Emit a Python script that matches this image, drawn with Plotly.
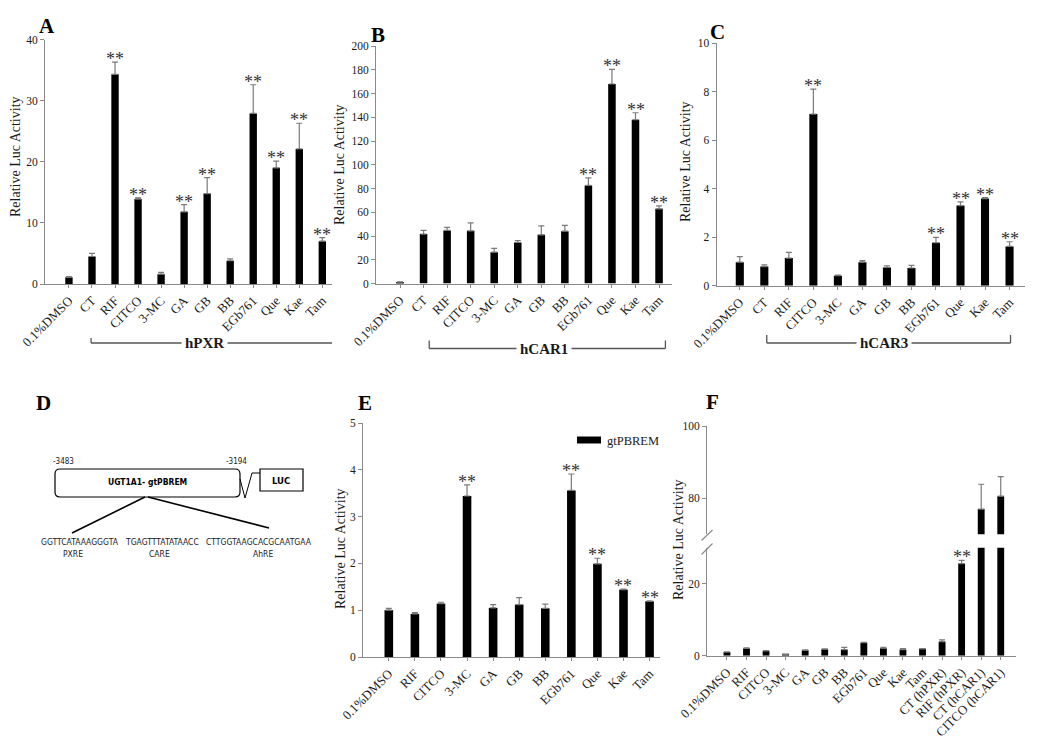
import plotly.graph_objects as go

# ---------------- data ----------------
cats_abc = ["0.1%DMSO", "CT", "RIF", "CITCO", "3-MC", "GA", "GB", "BB", "EGb761", "Que", "Kae", "Tam"]

a_vals = [1.1, 4.5, 34.3, 13.9, 1.6, 11.8, 14.8, 3.8, 27.9, 19.0, 22.1, 7.0]
a_err = [0.1, 0.5, 2.0, 0.2, 0.3, 1.2, 2.6, 0.3, 4.7, 1.1, 4.2, 0.6]
a_sig = ["RIF", "CITCO", "GA", "GB", "EGb761", "Que", "Kae", "Tam"]

b_vals = [1.1, 41.6, 44.7, 44.4, 26.4, 34.6, 41.0, 44.1, 82.6, 168.0, 137.9, 62.9]
b_err = [0.3, 3.1, 2.5, 6.7, 3.1, 1.6, 7.6, 4.8, 6.4, 12.3, 5.9, 2.5]
b_sig = ["EGb761", "Que", "Kae", "Tam"]

c_vals = [0.97, 0.79, 1.14, 7.07, 0.41, 0.97, 0.75, 0.73, 1.77, 3.30, 3.59, 1.62]
c_err = [0.23, 0.07, 0.23, 1.03, 0.03, 0.06, 0.07, 0.11, 0.22, 0.15, 0.04, 0.19]
c_sig = ["CITCO", "EGb761", "Que", "Kae", "Tam"]

cats_e = ["0.1%DMSO", "RIF", "CITCO", "3-MC", "GA", "GB", "BB", "EGb761", "Que", "Kae", "Tam"]
e_vals = [1.0, 0.92, 1.14, 3.44, 1.05, 1.12, 1.04, 3.56, 1.99, 1.44, 1.19]
e_err = [0.04, 0.03, 0.03, 0.24, 0.07, 0.15, 0.09, 0.35, 0.12, 0.01, 0.01]
e_sig = ["3-MC", "EGb761", "Que", "Kae", "Tam"]

cats_f = ["0.1%DMSO", "RIF", "CITCO", "3-MC", "GA", "GB", "BB", "EGb761", "Que", "Kae", "Tam",
          "CT (hPXR)", "RIF (hPXR)", "CT (hCAR1)", "CITCO (hCAR1)"]
f_vals = [1.0, 2.0, 1.3, 0.3, 1.5, 1.8, 1.7, 3.6, 2.1, 1.7, 1.9, 3.9, 25.6, 77.0, 80.6]
f_err = [0.05, 0.2, 0.1, 0.05, 0.1, 0.1, 0.6, 0.1, 0.2, 0.3, 0.1, 0.5, 0.9, 6.9, 5.4]
f_sig = ["RIF (hPXR)"]

# ---------------- helpers ----------------
W, H = 1050, 753
def fx(p): return p / W
def fy(p): return 1 - p / H

SERIF = "Liberation Serif, Times New Roman, serif"
NARROW = "DejaVu Sans Condensed, Liberation Sans, Arial, sans-serif"
AXC = "#8a8a8a"
TXT = "#1a1a1a"

fig = go.Figure()

def add_bars(cats, vals, errs, xa, ya, width):
    fig.add_trace(go.Bar(
        x=cats, y=vals, xaxis=xa, yaxis=ya, width=width,
        marker=dict(color="black", line=dict(width=0)),
        error_y=dict(type="data", array=errs, arrayminus=[0] * len(errs), symmetric=False,
                     color="#7a7a7a", thickness=1.2, width=3),
        showlegend=False, hoverinfo="skip"))

def add_stars(cats, vals, errs, sig, xa, ya):
    for c in sig:
        i = cats.index(c)
        fig.add_annotation(x=c, y=vals[i] + errs[i], xref=xa, yref=ya, text="**",
                           showarrow=False, yanchor="bottom", yshift=-9,
                           font=dict(family=SERIF, size=18, color="#333"))

add_bars(cats_abc, a_vals, a_err, "x", "y", 0.32)
add_bars(cats_abc, b_vals, b_err, "x2", "y2", 0.32)
add_bars(cats_abc, c_vals, c_err, "x3", "y3", 0.33)
add_bars(cats_e, e_vals, e_err, "x4", "y4", 0.33)
add_bars(cats_f, f_vals, f_err, "x5", "y5", 0.35)
add_bars(cats_f, f_vals, f_err, "x5", "y6", 0.35)

add_stars(cats_abc, a_vals, a_err, a_sig, "x", "y")
add_stars(cats_abc, b_vals, b_err, b_sig, "x2", "y2")
add_stars(cats_abc, c_vals, c_err, c_sig, "x3", "y3")
add_stars(cats_e, e_vals, e_err, e_sig, "x4", "y4")
add_stars(cats_f, f_vals, f_err, f_sig, "x5", "y5")

def xax(dom, rng, anchor):
    return dict(domain=[fx(dom[0]), fx(dom[1])], range=rng, anchor=anchor, automargin=False,
                showline=True, linecolor=AXC, linewidth=1, showgrid=False, zeroline=False,
                ticks="outside", ticklen=3, tickcolor=AXC, tickangle=-45,
                tickfont=dict(family=SERIF, size=13, color=TXT), fixedrange=True)

def yax(dom, rng, dtick, anchor):
    return dict(domain=[fy(dom[1]), fy(dom[0])], range=rng, dtick=dtick, anchor=anchor,
                automargin=False,
                showline=True, linecolor=AXC, linewidth=1, showgrid=False, zeroline=False,
                ticks="outside", ticklen=4, tickcolor=AXC,
                tickfont=dict(family=SERIF, size=11.5, color=TXT), fixedrange=True)

fig.update_layout(
    template="none",
    width=W, height=H, margin=dict(l=0, r=0, t=0, b=0, autoexpand=False),
    paper_bgcolor="white", plot_bgcolor="white", barmode="overlay", showlegend=False,
    xaxis=xax((45, 332), [-1.04, 11.42], "y"),
    yaxis=yax((39.5, 284), [0, 40], 10, "x"),
    xaxis2=xax((376, 672), [-1.02, 11.55], "y2"),
    yaxis2=yax((46, 283.5), [0, 200], 20, "x2"),
    xaxis3=xax((716.5, 1025), [-0.95, 11.63], "y3"),
    yaxis3=yax((43, 285.7), [0, 10], 2, "x3"),
    xaxis4=xax((363, 660), [-0.99, 10.4], "y4"),
    yaxis4=yax((423, 657), [0, 5], 1, "x4"),
    xaxis5=xax((707, 1016), [-1.02, 14.78], "y5"),
    yaxis5=yax((547.7, 655.7), [0, 30], 20, "x5"),
    yaxis6=yax((426.3, 534.3), [70, 100], 20, "x5"),
)

# ---------------- text: panel letters & y titles ----------------
def txt(x, y, s, size, family=SERIF, bold=False, angle=0, xanchor="center", color=TXT, bg=None):
    fig.add_annotation(x=fx(x), y=fy(y), xref="paper", yref="paper",
                       text=f"<b>{s}</b>" if bold else s, showarrow=False,
                       xanchor=xanchor, yanchor="middle", textangle=angle,
                       font=dict(family=family, size=size, color=color),
                       bgcolor=bg, borderpad=0)

for letter, (lx, ly) in {"A": (47, 26), "B": (378, 35), "C": (717, 32),
                         "D": (43, 403), "E": (365, 403), "F": (712, 402)}.items():
    txt(lx, ly, letter, 21, bold=True, color="black")

for (lx, ly) in [(15, 157), (339, 165), (685, 162), (340, 549), (678, 540)]:
    txt(lx, ly, "Relative Luc Activity", 14, angle=-90)

# ---------------- brackets under A, B, C ----------------
def bracket(xa, x0, x1, ypx, tick, label, xlab):
    col = "#555"
    fig.add_shape(type="line", xref=xa, yref="paper", x0=x0, x1=x1, y0=fy(ypx), y1=fy(ypx),
                  line=dict(color=col, width=1.3))
    for xv in (x0, x1):
        fig.add_shape(type="line", xref=xa, yref="paper", x0=xv, x1=xv, y0=fy(ypx), y1=fy(ypx - tick),
                      line=dict(color=col, width=1.3))
    fig.add_annotation(x=xlab, y=fy(ypx), xref=xa, yref="paper", text=f"<b>{label}</b>",
                       showarrow=False, yanchor="middle", bgcolor="white", borderpad=3,
                       font=dict(family=SERIF, size=15, color=TXT))

bracket("x", 0.96, 11.48, 343, 5, "hPXR", 5.87)
bracket("x2", 1.24, 11.27, 348.5, 8, "hCAR1", 6.1)
bracket("x3", 1.1, 11.04, 343, 8, "hCAR3", 5.9)

# ---------------- legend in E ----------------
fig.add_shape(type="rect", xref="paper", yref="paper", x0=fx(577), x1=fx(601), y0=fy(443.5), y1=fy(436.5),
              fillcolor="black", line=dict(width=0))
txt(606, 441, "gtPBREM", 12.5, xanchor="left")

# ---------------- F axis break marks ----------------
for (x0, y0, x1, y1) in [(701.5, 540.5, 712.5, 530), (701.5, 554.5, 712.5, 543.5)]:
    fig.add_shape(type="line", xref="paper", yref="paper", x0=fx(x0), y0=fy(y0), x1=fx(x1), y1=fy(y1),
                  line=dict(color=AXC, width=1.2))

# ---------------- panel D diagram ----------------
def rounded_rect(x0, y0, x1, y1, r):
    rx, ry = r / W, r / H
    X0, X1, Y0, Y1 = fx(x0), fx(x1), fy(y1), fy(y0)
    return (f"M {X0+rx},{Y0} L {X1-rx},{Y0} Q {X1},{Y0} {X1},{Y0+ry} L {X1},{Y1-ry} "
            f"Q {X1},{Y1} {X1-rx},{Y1} L {X0+rx},{Y1} Q {X0},{Y1} {X0},{Y1-ry} "
            f"L {X0},{Y0+ry} Q {X0},{Y0} {X0+rx},{Y0} Z")

fig.add_shape(type="path", xref="paper", yref="paper", path=rounded_rect(55, 469, 240, 497, 5),
              line=dict(color="black", width=1.2), fillcolor="white")
fig.add_shape(type="rect", xref="paper", yref="paper", x0=fx(260), x1=fx(303), y0=fy(491), y1=fy(469),
              line=dict(color="black", width=1.2), fillcolor="white")
zig = [(240, 479), (245, 498), (252, 473), (260, 473)]
fig.add_shape(type="path", xref="paper", yref="paper",
              path="M " + " L ".join(f"{fx(a)},{fy(b)}" for a, b in zig),
              line=dict(color="black", width=1))
for (x0, y0, x1, y1) in [(145, 497, 72, 533), (148, 497, 269, 528)]:
    fig.add_shape(type="line", xref="paper", yref="paper", x0=fx(x0), y0=fy(y0), x1=fx(x1), y1=fy(y1),
                  line=dict(color="black", width=1.6))

txt(63, 461, "-3483", 8, family=NARROW)
txt(237, 461, "-3194", 8, family=NARROW)
txt(147, 482, "UGT1A1- gtPBREM", 8.5, family=NARROW, bold=True, color="black")
txt(281, 480, "LUC", 9.5, family=NARROW, bold=True, color="black")
txt(80, 542, "GGTTCATAAAGGGTA", 8.5, family=NARROW)
txt(73, 554, "PXRE", 8.5, family=NARROW)
txt(162, 542, "TGAGTTTATATAACC", 8.5, family=NARROW)
txt(159, 554, "CARE", 8.5, family=NARROW)
txt(259, 542, "CTTGGTAAGCACGCAATGAA", 8.5, family=NARROW)
txt(263, 554, "AhRE", 8.5, family=NARROW)

fig.write_html("out.html", config={"displayModeBar": False},
               post_script="document.body.style.margin='0';document.body.style.overflow='hidden';")
